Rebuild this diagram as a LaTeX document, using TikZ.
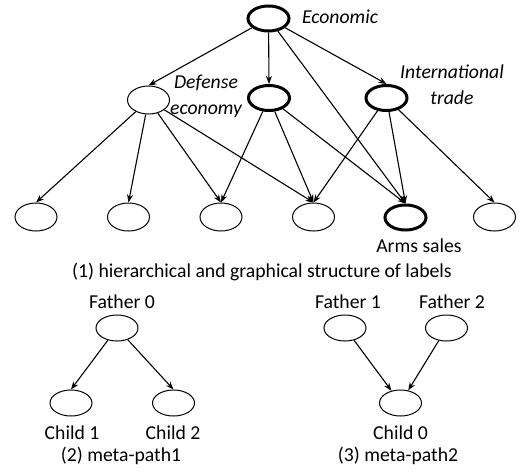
\documentclass[tikz,border=0pt]{standalone}
\usepackage{fontspec}
\setmainfont{Carlito}
\usetikzlibrary{shapes.geometric,arrows.meta}
\begin{document}
\begin{tikzpicture}[x=1pt,y=-1pt,
  thinell/.style={ellipse,draw,line width=1pt,minimum width=42pt,minimum height=28pt,inner sep=0pt},
  thickell/.style={ellipse,draw,line width=3pt,minimum width=41pt,minimum height=25pt,inner sep=0pt},
  smallell/.style={ellipse,draw,line width=1pt,minimum width=42pt,minimum height=26pt,inner sep=0pt},
  lbl/.style={inner sep=0pt,anchor=base,font=\fontsize{19.7}{25.5}\selectfont},
  ilbl/.style={lbl,font=\fontsize{19.7}{25.5}\selectfont\itshape,align=center},
  arr/.style={-{Stealth[length=8pt,width=6pt]},line width=1.1pt}]
\useasboundingbox (0,0) rectangle (525,474);
% top hierarchy
\node[thickell] (E) at (268.5,18.5) {};
\node[thinell] (A) at (148.5,100) {};
\node[thickell] (M) at (269,98) {};
\node[thickell] (I) at (386.5,98) {};
\node[thinell] (b1) at (36,217) {};
\node[thinell] (b2) at (128.5,217) {};
\node[thinell] (b3) at (221,217) {};
\node[thinell] (b4) at (313.5,217) {};
\node[thickell] (b5) at (405.5,217.5) {};
\node[thinell] (b6) at (494.5,217) {};
\node[ilbl] (tE) at (340,23) {Economic};
\node[ilbl] (tM) at (206,114) {Defense\\economy};
\node[ilbl] (tI) at (452,104) {International\\trade};
\node[lbl] (tb5) at (419,252) {Arms sales};
\node[lbl] (cap1) at (262,277) {(1) hierarchical and graphical structure of labels};
\draw[arr] (E) -- (A.north);
\draw[arr] (E) -- (M.north);
\draw[arr] (E) -- (I.north);
\draw[arr] (E) -- (b5.north);
\draw[arr] (A) -- (b1.north);
\draw[arr] (A) -- (b2.north);
\draw[arr] (A) -- (b3.north);
\draw[arr] (A) -- (b4.north);
\draw[arr] (M) -- (b3.north);
\draw[arr] (M) -- (b4.north);
\draw[arr] (M) -- (b5.north);
\draw[arr] (I) -- (b4.north);
\draw[arr] (I) -- (b5.north);
\draw[arr] (I) -- (b6.north);
% meta-path 1
\node[smallell] (f0) at (117,328) {};
\node[smallell] (c1) at (71,403) {};
\node[smallell] (c2) at (173.5,403) {};
\node[lbl] (tf0) at (122,308) {Father 0};
\node[lbl] (tc1) at (72,439) {Child 1};
\node[lbl] (tc2) at (173,439) {Child 2};
\node[lbl] (cap2) at (121,461) {(2) meta-path1};
\draw[arr] (f0) -- (c1.north);
\draw[arr] (f0) -- (c2.north);
% meta-path 2
\node[smallell] (f1) at (345,328) {};
\node[smallell] (f2) at (446.5,328) {};
\node[smallell] (c0) at (400.5,403) {};
\node[lbl] (tf1) at (348,308) {Father 1};
\node[lbl] (tf2) at (452,308) {Father 2};
\node[lbl] (tc0) at (400.5,439) {Child 0};
\node[lbl] (cap3) at (398,461) {(3) meta-path2};
\draw[arr] (f1) -- (c0);
\draw[arr] (f2) -- (c0);
\end{tikzpicture}
\end{document}
